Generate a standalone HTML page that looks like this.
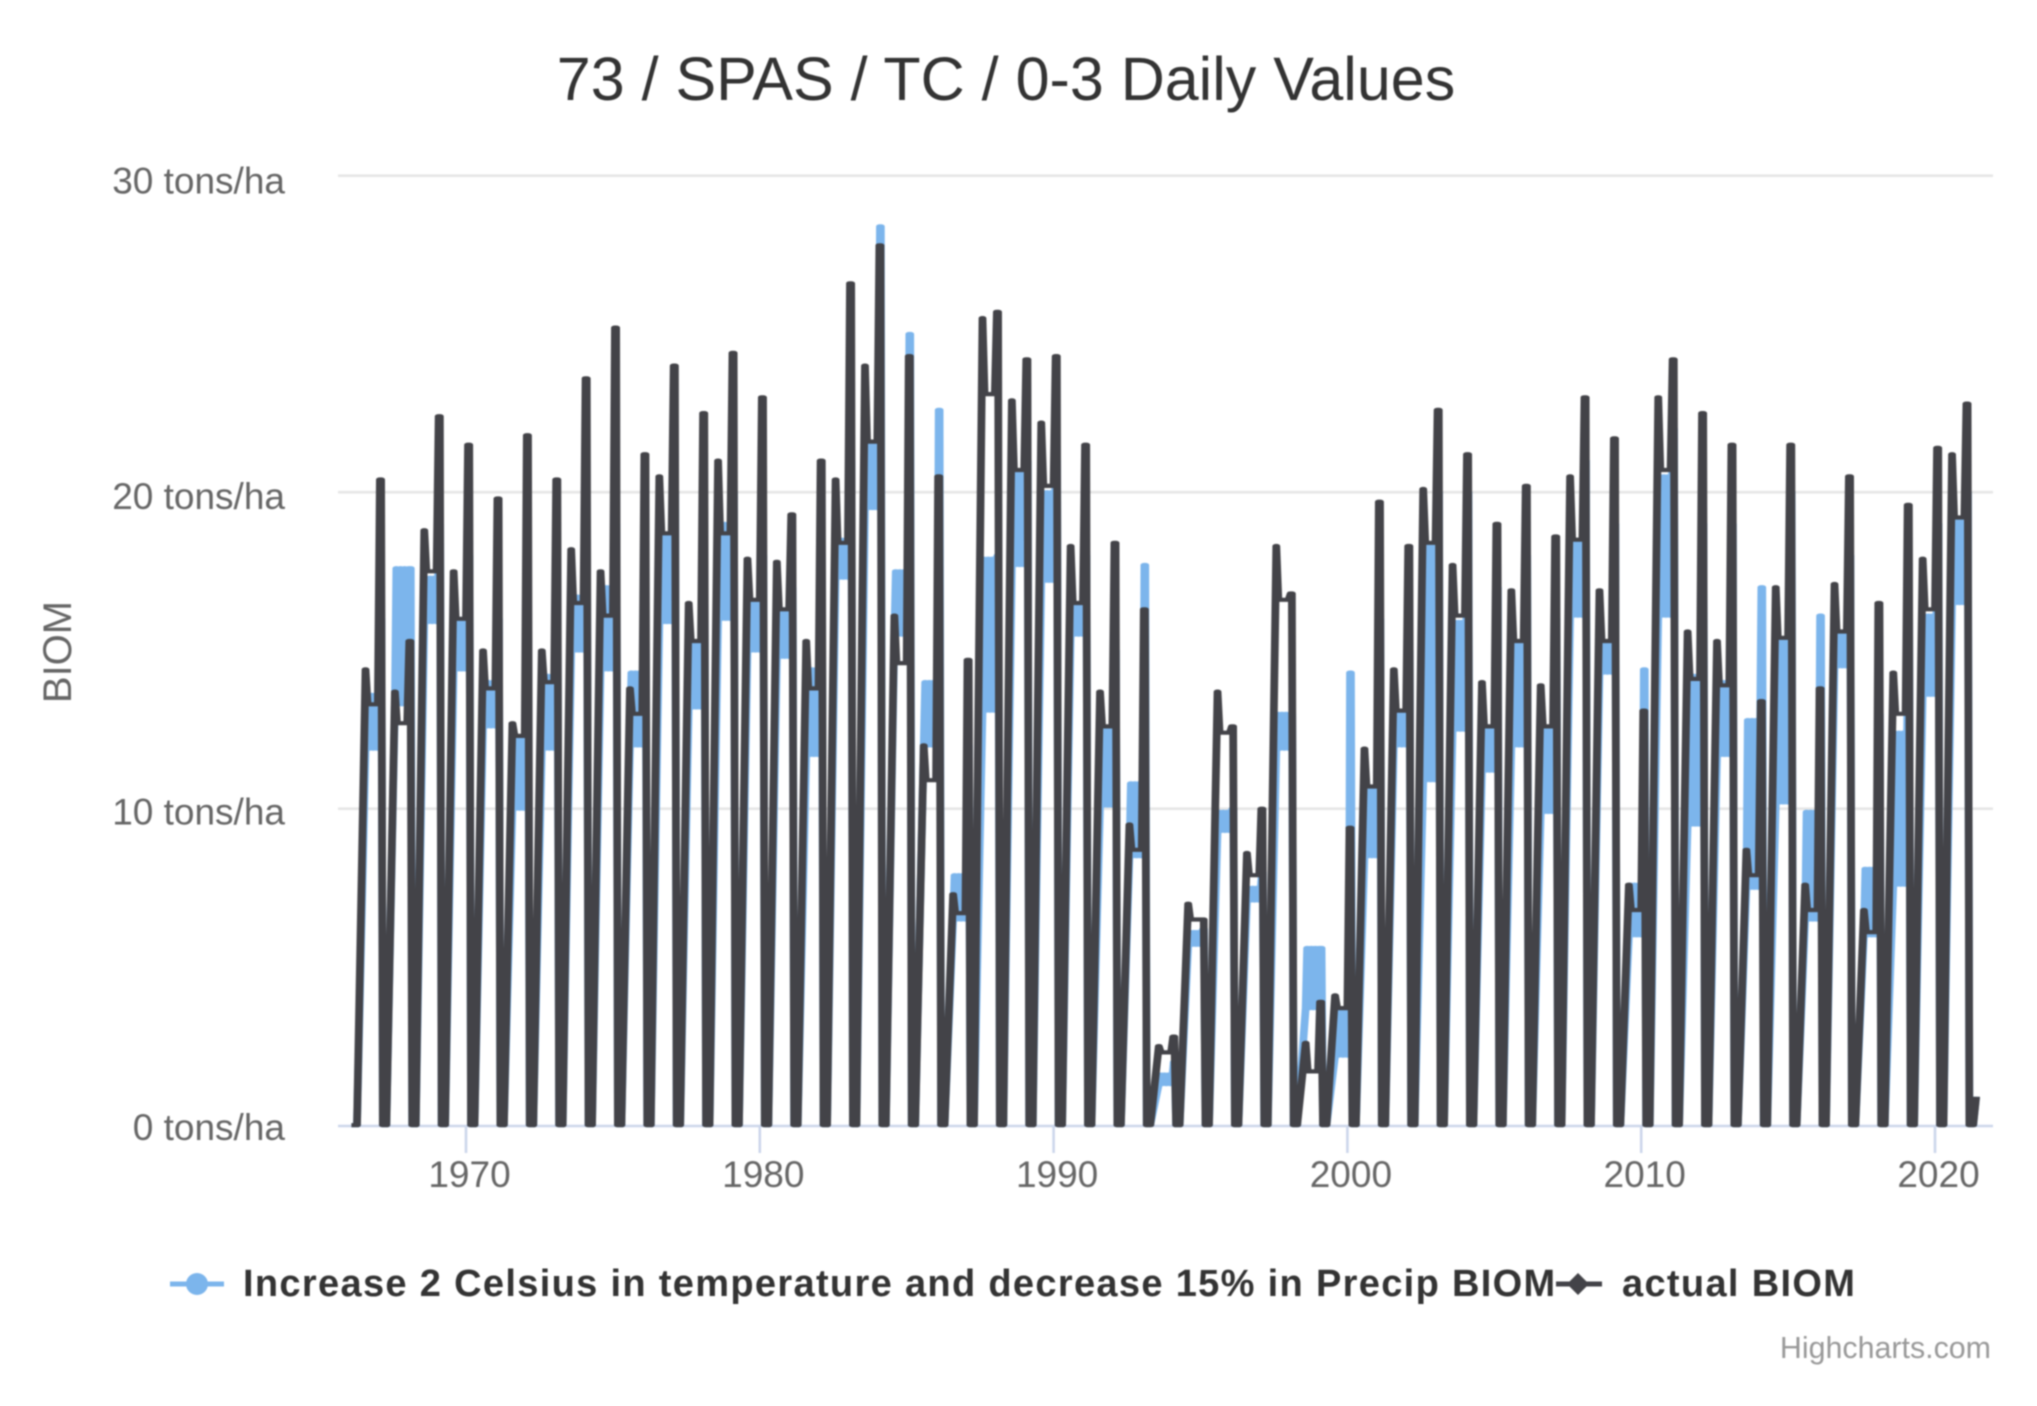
<!DOCTYPE html>
<html lang="en">
<head>
<meta charset="utf-8">
<title>73 / SPAS / TC / 0-3 Daily Values</title>
<style>
html,body{margin:0;padding:0;background:#fff;width:2037px;height:1406px;overflow:hidden}
svg{display:block;filter:blur(0.8px);font-family:"Liberation Sans",Arial,sans-serif}
</style>
</head>
<body>
<svg id="chart" xmlns="http://www.w3.org/2000/svg" width="2037" height="1406" viewBox="0 0 2037 1406">
  <rect width="2037" height="1406" fill="#fff"/>
  <text x="1006" y="100" text-anchor="middle" font-size="61" fill="#333">73 / SPAS / TC / 0-3 Daily Values</text>
  <text transform="translate(71,652) rotate(-90)" text-anchor="middle" font-size="40" fill="#666">BIOM</text>
  <g id="grid"></g>
  <g id="yLabels"></g>
  <g id="xAxis"></g>
  <g id="series"></g>
  <g>
    <g>
      <line x1="170" x2="224" y1="1284" y2="1284" stroke="#7cb5ec" stroke-width="5"/>
      <circle cx="197" cy="1284" r="11" fill="#7cb5ec"/>
      <text x="243" y="1296" font-size="38" font-weight="bold" letter-spacing="1.33" fill="#333">Increase 2 Celsius in temperature and decrease 15% in Precip BIOM</text>
    </g>
    <g>
      <line x1="1556" x2="1602" y1="1284" y2="1284" stroke="#434348" stroke-width="5"/>
      <path d="M1578 1273 L1589 1284 L1578 1295 L1567 1284 Z" fill="#434348"/>
      <text x="1622" y="1296" font-size="38" font-weight="bold" letter-spacing="1.33" fill="#333">actual BIOM</text>
    </g>
  </g>
  <text x="1991" y="1358" text-anchor="end" font-size="30.4" fill="#999">Highcharts.com</text>
</svg>
<script>
// ---- chart data (tons/ha), one entry per growing cycle starting in the listed year ----
const firstCycleYear = 1966;
const yTicks = [0, 10, 20, 30];
const xTicks = [1970, 1980, 1990, 2000, 2010, 2020];
const actualPeak1 = [14.4,13.7,18.8,17.5,15,12.7,15,18.2,17.5,13.8,20.5,16.5,21,17.9,17.8,15.3,20.4,24,16.1,12,7.3,25.5,22.9,22.2,18.3,13.7,9.5,2.5,7,13.7,8.6,18.3,2.6,4.1,11.9,14.4,20.1,17.7,14,16.9,13.9,20.5,16.9,7.6,23,15.6,15.3,8.7,17,7.6,17.1,6.8,14.3,17.9,21.2];
const actualPlateau = [13.3,12.7,17.5,16,13.8,12.3,14,16.5,16.1,13,18.7,15.3,18.7,16.6,16.3,13.8,18.4,21.6,14.6,10.9,6.7,23.1,20.7,20.2,16.5,12.6,8.7,2.3,6.5,12.4,7.9,16.6,1.7,3.7,10.7,13.1,18.4,16.1,12.6,15.3,12.6,18.5,15.3,6.8,20.7,14.1,13.9,7.9,15.4,6.8,15.6,6.1,13,16.3,19.2];
const actualPeak2 = [20.4,15.3,22.4,21.5,19.8,21.8,20.4,23.6,25.2,21.2,24,22.5,24.4,23,19.3,21,26.6,27.8,24.3,20.5,14.7,25.7,24.2,24.3,21.5,18.4,16.3,2.8,6.5,12.6,10,16.8,3.9,9.4,19.7,18.3,22.6,21.2,19,20.2,18.6,23,21.7,13.1,24.2,22.5,21.5,13.4,21.5,13.8,20.5,16.5,19.6,21.4,22.8];
const scenarioHigh = [13.6,17.6,17.3,16,14,12.2,14.2,16.7,17,14.3,18.6,15.2,19,16.5,16.3,14.4,18.5,21.6,17.5,14,7.9,17.9,20.6,20,16.5,12.5,10.8,1.6,6.1,9.9,7.5,13,5.6,3.7,10.7,13,18.3,15.9,12.6,15.2,12.5,18.5,15.2,7.6,20.5,14.2,14,12.8,15.3,9.9,15.5,8.1,12.4,16.1,19.1];
const scenarioLow = [11.9,13.3,15.9,14.4,12.6,10,11.9,15,14.4,12,15.9,13.2,16,15,14.8,11.7,17.3,19.5,15.5,12,6.5,13.1,17.7,17.2,15.5,10.1,8.5,1.3,5.7,9.3,7.1,11.9,3.7,2.2,8.5,12,10.9,12.5,11.2,12,9.9,16.1,14.3,6,16.1,9.5,11.7,7.5,10.2,6.5,14.5,6,7.6,13.6,16.5];
const scenarioPeak = [16,17.6,19,18,16,14,15,18,19,15,20,17,20,18,17,15,21,28.4,25,22.6,12,18,21,21,18,15,17.7,2,6.2,10,8,13,5.6,14.3,16,15,20,20,17,18,16,21,19,14.4,22,19,19,17,20,16.1,18,13,16,19,20];
const lastValue = [0.9];

// ---- axis functions ----
function xScale(year){ return 466 + (year - 1970) * 29.38; }
function yScale(v){ return 1125.2 - v * 31.65; }

const NS = 'http://www.w3.org/2000/svg';
const strokeStretch = 1.85; // reference was upscaled wider than tall: near-vertical strokes look heavier
function make(tag, attrs, parent){
  const el = document.createElementNS(NS, tag);
  for (const k in attrs) el.setAttribute(k, attrs[k]);
  parent.appendChild(el);
  return el;
}

// ---- grid and y labels ----
const grid = document.getElementById('grid');
const yLabels = document.getElementById('yLabels');
yTicks.forEach(function(v){
  if (v !== 0) {
    const g = make('line', {x1:338, x2:1993, y1:yScale(v), y2:yScale(v), stroke:'#e6e6e6', 'stroke-width':2.6}, grid);
    
    
  }
  const t = make('text', {x:285, y:yScale(v) + 15 + v * 0.1, 'text-anchor':'end', 'font-size':37, fill:'#666'}, yLabels);
  t.textContent = v + ' tons/ha';
  
  
});

// ---- x axis ----
const xAxis = document.getElementById('xAxis');
const axisLine = make('line', {x1:338, x2:1993, y1:1126, y2:1126, stroke:'#ccd6eb', 'stroke-width':2.6}, xAxis);


xTicks.forEach(function(yr){
  const tick = make('line', {x1:xScale(yr), x2:xScale(yr), y1:1127, y2:1153, stroke:'#ccd6eb', 'stroke-width':2.6}, xAxis);
  
  
  const t = make('text', {x:xScale(yr)+3.5, y:1187, 'text-anchor':'middle', 'font-size':37, fill:'#666'}, xAxis);
  t.textContent = yr;
  
  
});

// ---- series paths ----
function toPath(pts){
  return pts.map(function(p, i){
    return (i ? 'L' : 'M') + (xScale(p[0]) / strokeStretch).toFixed(2) + ' ' + yScale(p[1]).toFixed(1);
  }).join(' ');
}

const actualPts = [[firstCycleYear + 0.1, 0]];
actualPeak1.forEach(function(p1, i){
  const c = firstCycleYear + i;
  const pl = actualPlateau[i], p2 = actualPeak2[i];
  actualPts.push([c+0.29,0],[c+0.58,p1],[c+0.65,pl],[c+1.0,pl],[c+1.07,p2],[c+1.11,p2],[c+1.17,0]);
});
const lastCycleEnd = firstCycleYear + actualPeak1.length;
actualPts.push([lastCycleEnd+0.3,0],[lastCycleEnd+0.4,lastValue[0]]);

const scenarioPts = [[firstCycleYear + 0.1, 0]];
scenarioHigh.forEach(function(hi, i){
  const c = firstCycleYear + i;
  const lo = scenarioLow[i], pk = scenarioPeak[i];
  scenarioPts.push([c+0.29,0],[c+0.58,lo]);
  [0.63,0.70,0.77,0.84,0.91,0.98].forEach(function(o, j){
    scenarioPts.push([c+o, j % 2 ? lo : hi]);
  });
  scenarioPts.push([c+1.05,hi],[c+1.09,pk],[c+1.12,pk],[c+1.17,0]);
});
scenarioPts.push([lastCycleEnd+0.3,0],[lastCycleEnd+0.4,lastValue[0]]);

const seriesG = document.getElementById('series');
seriesG.setAttribute('transform', 'scale(' + strokeStretch + ',1)');
const scenarioLine = make('path', {d:toPath(scenarioPts), fill:'none', stroke:'#7cb5ec', 'stroke-width':4.2, 'stroke-linejoin':'round'}, seriesG);


const actualLine = make('path', {d:toPath(actualPts), fill:'none', stroke:'#434348', 'stroke-width':4.2, 'stroke-linejoin':'round'}, seriesG);


</script>
</body>
</html>
